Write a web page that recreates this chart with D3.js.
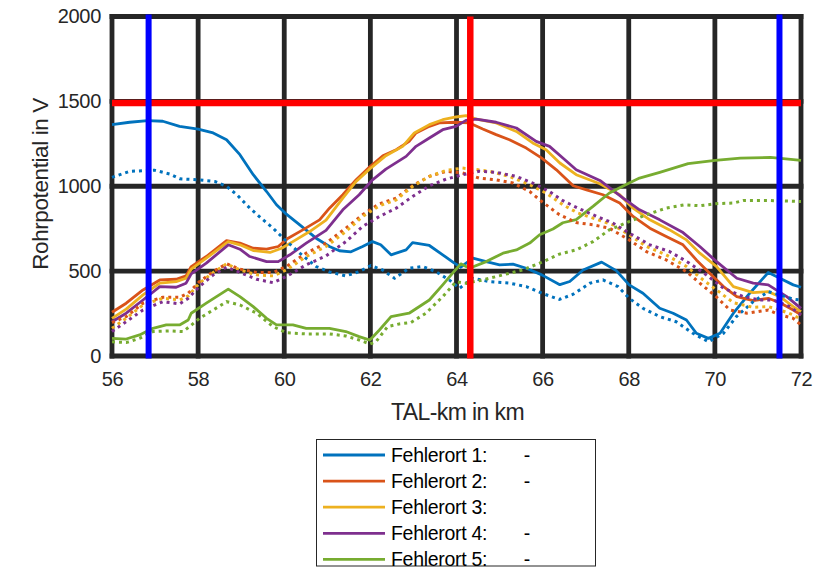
<!DOCTYPE html>
<html>
<head>
<meta charset="utf-8">
<script src="https://cdn.jsdelivr.net/npm/d3@7"></script>
<style>
  html, body { margin: 0; padding: 0; background: #fff; }
  svg { display: block; }
  text { font-family: "Liberation Sans", Arial, sans-serif; }
</style>
</head>
<body>
<svg id="chart" width="821" height="577"></svg>
<script>
// ---------------- DATA ----------------
const xTicks = [56, 58, 60, 62, 64, 66, 68, 70, 72];
const yTicks = [0, 500, 1000, 1500, 2000];
const xLabel = "TAL-km in km";
const yLabel = "Rohrpotential in V";
const seriesNames = ["Fehlerort 1:", "Fehlerort 2:", "Fehlerort 3:", "Fehlerort 4:", "Fehlerort 5:"];
const seriesSuffix = ["-", "-", "", "-", "-"];
const seriesColors = ["#0072BD", "#D95319", "#EDB120", "#7E2F8E", "#77AC30"];

const redLimitV = 1490;
const redMarkKm = 64.32;
const blueMarksKm = [56.85, 71.5];

// [km, V] solid curves
const f1Solid = [[56.0,1363],[56.41,1377],[56.83,1387],[57.18,1383],[57.57,1353],[58.0,1337],[58.35,1314],[58.66,1274],[58.97,1186],[59.28,1068],[59.59,969],[59.82,891],[60.02,842],[60.36,773],[60.74,694],[61.05,645],[61.28,620],[61.55,614],[61.82,645],[62.05,674],[62.24,655],[62.48,596],[62.83,625],[62.98,668],[63.37,651],[63.68,596],[63.95,547],[64.1,523],[64.38,576],[64.69,556],[65.0,537],[65.31,541],[65.62,517],[65.98,478],[66.4,420],[66.63,439],[66.94,507],[67.37,553],[67.71,503],[68.01,419],[68.33,370],[68.72,281],[69.03,252],[69.34,212],[69.57,134],[69.85,104],[70.12,134],[70.43,252],[70.81,370],[71.24,492],[71.51,458],[71.82,419],[72.0,405]];
const f2Solid = [[56.0,258],[56.33,311],[56.72,389],[57.11,448],[57.49,452],[57.72,472],[57.84,527],[58.19,586],[58.66,680],[58.97,665],[59.28,635],[59.59,629],[59.86,645],[60.09,694],[60.43,743],[60.82,802],[61.05,871],[61.36,950],[61.67,1038],[61.98,1113],[62.29,1180],[62.6,1215],[62.9,1264],[63.06,1314],[63.37,1353],[63.6,1373],[63.99,1377],[64.3,1373],[64.61,1337],[64.92,1304],[65.23,1274],[65.62,1225],[65.98,1166],[66.32,1097],[66.71,1003],[67.02,979],[67.4,950],[67.79,901],[68.1,822],[68.49,753],[68.87,704],[69.26,655],[69.57,566],[69.88,488],[70.2,409],[70.51,350],[70.89,326],[71.24,340],[71.51,314],[71.82,271],[72.0,242]];
const f3Solid = [[56.0,222],[56.33,276],[56.72,360],[57.11,429],[57.49,438],[57.72,458],[57.84,512],[58.19,576],[58.7,674],[58.97,655],[59.28,621],[59.67,610],[59.94,635],[60.2,674],[60.59,733],[60.97,800],[61.36,930],[61.67,1028],[61.98,1101],[62.36,1180],[62.75,1235],[63.02,1314],[63.37,1363],[63.68,1392],[63.99,1408],[64.22,1416],[64.46,1396],[64.92,1373],[65.39,1323],[65.77,1255],[66.08,1215],[66.4,1137],[66.78,1068],[67.33,1015],[67.79,950],[68.1,871],[68.49,802],[68.95,743],[69.34,684],[69.65,606],[70.04,527],[70.43,409],[70.89,373],[71.24,379],[71.51,350],[71.82,291],[72.0,261]];
const f4Solid = [[56.0,202],[56.33,252],[56.72,330],[57.11,409],[57.49,405],[57.72,429],[57.84,484],[58.19,547],[58.7,655],[58.97,629],[59.2,586],[59.59,556],[59.86,556],[60.13,596],[60.51,665],[60.97,740],[61.36,861],[61.74,950],[62.05,1038],[62.36,1101],[62.83,1176],[63.06,1235],[63.37,1284],[63.68,1333],[63.99,1353],[64.22,1388],[64.46,1396],[64.92,1377],[65.39,1343],[65.85,1264],[66.16,1235],[66.47,1166],[66.78,1097],[67.33,1034],[67.87,930],[68.25,861],[68.72,802],[69.26,727],[69.65,645],[70.04,556],[70.51,458],[70.89,429],[71.24,419],[71.67,350],[72.0,281]];
const f5Solid = [[56.0,104],[56.33,100],[56.64,124],[56.95,163],[57.26,183],[57.57,183],[57.77,212],[57.84,252],[58.19,311],[58.7,394],[58.97,350],[59.28,291],[59.59,222],[59.82,183],[60.2,183],[60.51,163],[61.05,163],[61.43,144],[61.74,114],[61.99,94],[62.21,153],[62.48,232],[62.9,252],[63.37,330],[63.68,419],[63.91,488],[64.1,543],[64.3,517],[64.69,556],[65.08,606],[65.39,625],[65.7,665],[65.93,714],[66.24,748],[66.47,785],[66.78,804],[67.17,881],[67.55,960],[68.01,1019],[68.25,1048],[68.72,1082],[69.38,1133],[70.01,1152],[70.59,1166],[71.29,1170],[72.0,1152]];

// [km, V] dotted curves
const f1Dotted = [[56.0,1052],[56.41,1088],[56.99,1094],[57.34,1072],[57.57,1044],[58.0,1038],[58.39,1028],[58.66,999],[58.9,950],[59.2,871],[59.51,802],[59.74,753],[60.02,684],[60.36,606],[60.74,527],[61.05,495],[61.43,472],[61.74,497],[62.01,533],[62.28,507],[62.56,458],[62.9,517],[63.21,527],[63.52,497],[63.83,448],[64.07,399],[64.38,458],[64.77,438],[65.23,429],[65.62,409],[65.98,370],[66.39,333],[66.71,364],[67.1,429],[67.4,448],[67.75,409],[68.01,340],[68.33,281],[68.72,232],[69.1,202],[69.49,134],[69.85,84],[70.2,134],[70.5,232],[70.89,320],[71.24,379],[71.51,360],[71.82,335],[72.0,330]];
const f2Dotted = [[56.0,197],[56.33,232],[56.72,311],[57.18,346],[57.57,346],[57.77,370],[58.03,438],[58.35,497],[58.66,543],[58.97,512],[59.36,492],[59.74,492],[60.05,527],[60.51,606],[60.97,665],[61.43,753],[61.82,832],[62.21,897],[62.6,930],[62.98,1003],[63.37,1058],[63.76,1088],[64.14,1078],[64.53,1048],[64.92,1038],[65.31,1019],[65.7,969],[65.98,910],[66.39,832],[66.78,786],[67.17,773],[67.55,753],[68.01,684],[68.41,615],[68.87,566],[69.34,497],[69.65,429],[70.01,354],[70.35,271],[70.74,252],[71.24,271],[71.51,242],[71.82,222],[72.0,183]];
const f3Dotted = [[56.0,163],[56.33,222],[56.72,301],[57.18,340],[57.57,330],[57.77,354],[58.03,429],[58.35,492],[58.66,543],[58.97,507],[59.36,478],[59.74,472],[60.05,507],[60.51,586],[60.97,645],[61.43,733],[61.82,822],[62.21,885],[62.6,920],[62.98,999],[63.37,1058],[63.76,1093],[64.14,1107],[64.38,1101],[64.77,1088],[65.23,1058],[65.7,1009],[66.08,960],[66.47,891],[66.82,842],[67.17,812],[67.63,773],[68.01,714],[68.41,645],[68.87,596],[69.34,527],[69.73,448],[70.04,389],[70.43,314],[70.89,287],[71.24,291],[71.51,271],[71.82,242],[72.0,216]];
const f4Dotted = [[56.0,144],[56.33,202],[56.72,271],[57.18,320],[57.57,307],[57.77,340],[58.03,409],[58.35,478],[58.66,523],[58.97,492],[59.36,452],[59.74,432],[60.05,468],[60.51,537],[60.97,590],[61.43,674],[61.82,763],[62.21,822],[62.6,871],[62.98,940],[63.37,1003],[63.76,1042],[64.14,1068],[64.53,1088],[64.92,1082],[65.39,1058],[65.77,1019],[66.16,969],[66.47,915],[66.82,871],[67.17,832],[67.63,783],[68.01,724],[68.49,655],[68.95,615],[69.41,547],[69.8,478],[70.2,399],[70.66,350],[71.05,330],[71.36,329],[71.74,291],[72.0,242]];
const f5Dotted = [[56.0,84],[56.33,79],[56.64,104],[56.95,144],[57.34,148],[57.65,144],[57.8,173],[58.03,222],[58.35,271],[58.66,320],[58.97,301],[59.36,252],[59.74,173],[60.05,137],[60.51,130],[61.05,130],[61.43,118],[61.74,94],[61.99,71],[62.13,84],[62.4,173],[62.67,189],[62.94,197],[63.29,252],[63.68,350],[63.99,438],[64.22,429],[64.61,448],[65.08,478],[65.54,507],[65.93,547],[66.39,600],[66.78,625],[67.17,674],[67.55,743],[68.01,792],[68.41,832],[68.87,871],[69.3,891],[69.65,885],[70.01,897],[70.43,901],[70.66,916],[71.29,916],[72.0,910]];

const solidSeries = [f1Solid, f2Solid, f3Solid, f4Solid, f5Solid];
const dottedSeries = [f1Dotted, f2Dotted, f3Dotted, f4Dotted, f5Dotted];

// ---------------- CHART ----------------
const svg = d3.select("#chart");
const axisColor = "#262626";
const plot = { left: 112, right: 801, top: 16.5, bottom: 356 };

const x = d3.scaleLinear().domain([56, 72]).range([plot.left, plot.right]);
const y = d3.scaleLinear().domain([0, 2000]).range([plot.bottom, plot.top]);

// grid (thick black lines)
const grid = svg.append("g");
grid.selectAll("line.v").data(xTicks).join("line")
  .attr("x1", d => x(d)).attr("x2", d => x(d))
  .attr("y1", plot.top).attr("y2", plot.bottom)
  .attr("stroke", axisColor).attr("stroke-width", 4.8).attr("stroke-linecap", "square");
grid.selectAll("line.h").data(yTicks).join("line")
  .attr("y1", d => y(d)).attr("y2", d => y(d))
  .attr("x1", plot.left).attr("x2", plot.right)
  .attr("stroke", axisColor).attr("stroke-width", 4.8).attr("stroke-linecap", "square");

// data curves
const line = d3.line().x(d => x(d[0])).y(d => y(d[1]));
const curves = svg.append("g");
solidSeries.forEach((s, i) => {
  curves.append("path").datum(s).attr("d", line)
    .attr("fill", "none").attr("stroke", seriesColors[i])
    .attr("stroke-width", 2.8).attr("stroke-linejoin", "round");
});
dottedSeries.forEach((s, i) => {
  curves.append("path").datum(s).attr("d", line)
    .attr("fill", "none").attr("stroke", seriesColors[i])
    .attr("stroke-width", 3).attr("stroke-dasharray", "3,4");
});

// red / blue markers
svg.append("line")
  .attr("x1", plot.left).attr("x2", plot.right)
  .attr("y1", y(redLimitV)).attr("y2", y(redLimitV))
  .attr("stroke", "#FF0000").attr("stroke-width", 6.5);
svg.append("line")
  .attr("x1", x(redMarkKm)).attr("x2", x(redMarkKm))
  .attr("y1", plot.top).attr("y2", plot.bottom + 2.5)
  .attr("stroke", "#FF0000").attr("stroke-width", 6.5);
svg.selectAll("line.blue").data(blueMarksKm).join("line")
  .attr("x1", d => x(d)).attr("x2", d => x(d))
  .attr("y1", plot.top - 2).attr("y2", plot.bottom + 2.5)
  .attr("stroke", "#0000FF").attr("stroke-width", 6);

// axes (tick labels)
const xAxis = svg.append("g")
  .attr("transform", `translate(0,${plot.bottom})`)
  .call(d3.axisBottom(x).tickValues(xTicks).tickSize(0).tickPadding(16).tickFormat(d3.format("d")));
const yAxis = svg.append("g")
  .attr("transform", `translate(${plot.left},0)`)
  .call(d3.axisLeft(y).tickValues(yTicks).tickSize(0).tickPadding(11).tickFormat(d3.format("d")));
[xAxis, yAxis].forEach(a => {
  a.select(".domain").remove();
  a.selectAll("text")
    .attr("fill", axisColor)
    .style("font-family", "'Liberation Sans', Arial, sans-serif")
    .style("font-size", "20px")
    .style("letter-spacing", "-0.3px");
});

// axis titles
svg.append("text")
  .attr("x", (plot.left + plot.right) / 2 + 1).attr("y", 420)
  .attr("text-anchor", "middle").attr("fill", axisColor)
  .style("font-size", "23px").style("letter-spacing", "-0.6px")
  .text(xLabel);
svg.append("text")
  .attr("transform", `translate(48,184) rotate(-90)`)
  .attr("text-anchor", "middle").attr("fill", axisColor)
  .style("font-size", "22.5px").style("letter-spacing", "-0.4px")
  .text(yLabel);

// legend
const legend = svg.append("g");
legend.append("rect")
  .attr("x", 316.5).attr("y", 439.5).attr("width", 279).attr("height", 126.5)
  .attr("fill", "#fff").attr("stroke", axisColor).attr("stroke-width", 1);
const rowY = i => 455 + i * 26.1;
seriesNames.forEach((name, i) => {
  legend.append("line")
    .attr("x1", 323).attr("x2", 385)
    .attr("y1", rowY(i)).attr("y2", rowY(i))
    .attr("stroke", seriesColors[i]).attr("stroke-width", 2.8);
  legend.append("text")
    .attr("x", 391).attr("y", rowY(i) + 7)
    .attr("fill", "#000").style("font-size", "19.5px").style("letter-spacing", "-0.3px")
    .text(name);
  legend.append("text")
    .attr("x", 527).attr("y", rowY(i) + 7)
    .attr("text-anchor", "middle")
    .attr("fill", "#000").style("font-size", "19.5px")
    .text(seriesSuffix[i]);
});
</script>
</body>
</html>
